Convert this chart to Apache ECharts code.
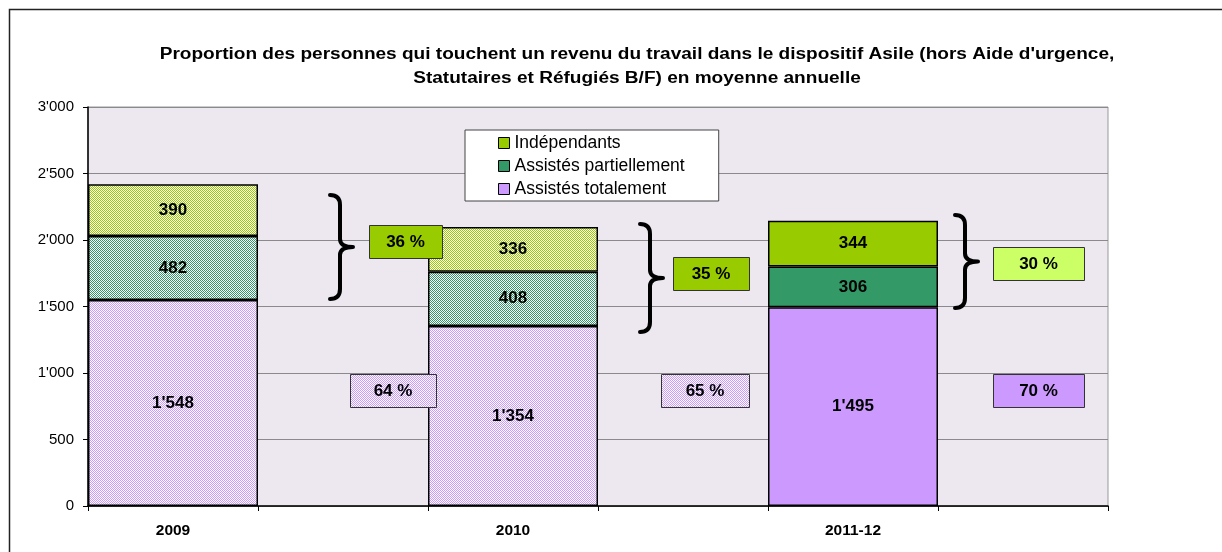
<!DOCTYPE html>
<html>
<head>
<meta charset="utf-8">
<script src="https://cdn.jsdelivr.net/npm/echarts@6/dist/echarts.min.js"></script>
<style>
html,body{margin:0;padding:0;background:#fff;}
#chart{width:1222px;height:552px;}
</style>
</head>
<body>
<div id="chart"></div>
<script>
// ---- data ----
const categories = ['2009', '', '2010', ' ', '2011-12', '  '];
const seriesNames = ['Indépendants', 'Assistés partiellement', 'Assistés totalement'];
const independants = [390, null, 336, null, 344, null];
const assistesPartiellement = [482, null, 408, null, 306, null];
const assistesTotalement = [1548, null, 1354, null, 1495, null];
const pctUpper = ['36 %', '35 %', '30 %'];
const pctLower = ['64 %', '65 %', '70 %'];
const yTicks = [0, 500, 1000, 1500, 2000, 2500, 3000];
const titleText = "Proportion des personnes qui touchent un revenu du travail dans le dispositif Asile (hors Aide d'urgence,\nStatutaires et Réfugiés B/F) en moyenne annuelle";

// ---- annotation placement (layout, not data) ----
const annotCats = [1, 3, 5];
const upperAnchor = [1985, 1741, 1816];
const lowerAnchor = [865, 861, 861];
const upperLayout = [{dx: 62.5, w: 73, fill: 'solid'}, {dx: 28, w: 76, fill: 'solid'}, {dx: 15.5, w: 91, fill: '#CCFF66'}];
const lowerLayout = [{dx: 50, w: 86, fill: 'pattern'}, {dx: 22, w: 88, fill: 'pattern'}, {dx: 15.5, w: 91, fill: '#CC99FF'}];
const braceSpan = [[1556, 2338], [1308, 2120], [1489, 2188]];
const braceDx = [-13, -43, -68];

const FONT = "'Liberation Sans', Arial, sans-serif";
const colors = {ind: '#99CC00', part: '#339966', tot: '#CC99FF'};

function pattern(color) {
  const c = document.createElement('canvas');
  c.width = 2; c.height = 2;
  const g = c.getContext('2d');
  g.fillStyle = '#ffffff'; g.fillRect(0, 0, 2, 2);
  g.fillStyle = color; g.fillRect(0, 0, 1, 1); g.fillRect(1, 1, 1, 1);
  return {image: c, repeat: 'repeat'};
}
const fmt = n => String(n).replace(/\B(?=(\d{3})+(?!\d))/g, "'");

function barSeries(name, values, color, patternIdx) {
  return {
    name: name, type: 'bar', stack: 'total', barCategoryGap: '0%',
    itemStyle: {color: color, borderColor: '#000', borderWidth: 1.5},
    label: {show: true, position: 'inside', color: '#000', fontFamily: FONT, fontWeight: 'bold', fontSize: 17,
      formatter: p => fmt(p.value)},
    data: values.map((v, i) => v == null ? null :
      (patternIdx.indexOf(i) >= 0 ? {value: v, itemStyle: {color: pattern(color)}} : v))
  };
}

const chart = echarts.init(document.getElementById('chart'), null, {renderer: 'canvas'});
chart.setOption({
  animation: false,
  backgroundColor: '#ffffff',
  legend: {
    orient: 'vertical', left: 465, top: 130, padding: [4, 34, 3, 33], itemGap: 5,
    backgroundColor: '#ffffff', borderColor: '#444', borderWidth: 1, borderRadius: 0,
    itemWidth: 11, itemHeight: 11, icon: 'rect', itemStyle: {borderColor: '#000', borderWidth: 1},
    textStyle: {fontFamily: FONT, fontSize: 17.5, color: '#000'},
    data: seriesNames
  },
  grid: {left: 88, right: 114, top: 107, bottom: 46, show: true, backgroundColor: '#EDE7EF', borderColor: '#999', borderWidth: 1},
  xAxis: {
    type: 'category', data: categories, boundaryGap: true,
    axisLine: {lineStyle: {color: '#000', width: 1.5}},
    axisTick: {show: true, interval: 0, length: 5, lineStyle: {color: '#000'}},
    axisLabel: {interval: 0, margin: 17, fontFamily: FONT, fontWeight: 'bold', fontSize: 15.5, color: '#000'}
  },
  yAxis: {
    type: 'value', min: yTicks[0], max: yTicks[yTicks.length - 1], interval: yTicks[1] - yTicks[0],
    axisLine: {show: true, lineStyle: {color: '#000', width: 1.5}},
    axisTick: {show: true, length: 5, lineStyle: {color: '#000'}},
    axisLabel: {margin: 14, fontFamily: FONT, fontSize: 15, color: '#000', formatter: v => fmt(v)},
    splitLine: {lineStyle: {color: '#8a8a8a', width: 1}}
  },
  graphic: [
    {type: 'rect', shape: {x: 9.5, y: 9.5, width: 1400, height: 800}, style: {fill: null, stroke: '#222', lineWidth: 1.5}, silent: true},
    {type: 'text', x: 637, y: 43, scaleX: 1.19, silent: true,
      style: {text: titleText, x: 0, y: 0, align: 'center', textAlign: 'center', verticalAlign: 'top', textVerticalAlign: 'top',
        font: 'bold 16px ' + FONT, lineHeight: 24, fill: '#000'}}
  ],
  series: [
    barSeries(seriesNames[2], assistesTotalement, colors.tot, [0, 2]),
    barSeries(seriesNames[1], assistesPartiellement, colors.part, [0, 2]),
    barSeries(seriesNames[0], independants, colors.ind, [0, 2]),
    {
      type: 'custom', name: 'braces', z: 5, silent: true,
      data: annotCats.map((c, i) => [c, braceSpan[i][0], braceSpan[i][1]]),
      renderItem: (params, api) => {
        const i = params.dataIndex;
        const pLow = api.coord([api.value(0), api.value(1)]);
        const pHigh = api.coord([api.value(0), api.value(2)]);
        const x0 = pLow[0] + braceDx[i], xs = x0 + 10, tip = x0 + 23;
        const y0 = pHigh[1], y1 = pLow[1], ym = (y0 + y1) / 2;
        const d = `M${x0} ${y0} Q${xs} ${y0} ${xs} ${y0 + 10} L${xs} ${ym - 8} Q${xs} ${ym} ${tip} ${ym} Q${xs} ${ym} ${xs} ${ym + 8} L${xs} ${y1 - 10} Q${xs} ${y1} ${x0} ${y1}`;
        return {type: 'path', shape: {pathData: d}, style: {fill: null, stroke: '#000', lineWidth: 4, lineCap: 'round', lineJoin: 'round'}};
      }
    },
    {
      type: 'custom', name: 'boxes', z: 6, silent: true,
      data: annotCats.map((c, i) => [c, upperAnchor[i]]).concat(annotCats.map((c, i) => [c, lowerAnchor[i]])),
      renderItem: (params, api) => {
        const k = params.dataIndex;
        const upper = k < 3, i = k % 3;
        const lay = upper ? upperLayout[i] : lowerLayout[i];
        const text = upper ? pctUpper[i] : pctLower[i];
        const p = api.coord([api.value(0), api.value(1)]);
        const cx = p[0] + lay.dx, cy = p[1];
        let fill = lay.fill;
        if (fill === 'solid') fill = colors.ind;
        if (fill === 'pattern') fill = pattern(colors.tot);
        return {type: 'group', children: [
          {type: 'rect', shape: {x: Math.round(cx - lay.w / 2) + 0.5, y: Math.round(cy - 17) + 0.5, width: lay.w, height: 33},
            style: {fill: fill, stroke: '#333', lineWidth: 1}},
          {type: 'text', style: {text: text, x: cx, y: cy, align: 'center', verticalAlign: 'middle', textAlign: 'center', textVerticalAlign: 'middle',
            font: 'bold 17px ' + FONT, fill: '#000'}}
        ]};
      }
    }
  ]
});
</script>
</body>
</html>
